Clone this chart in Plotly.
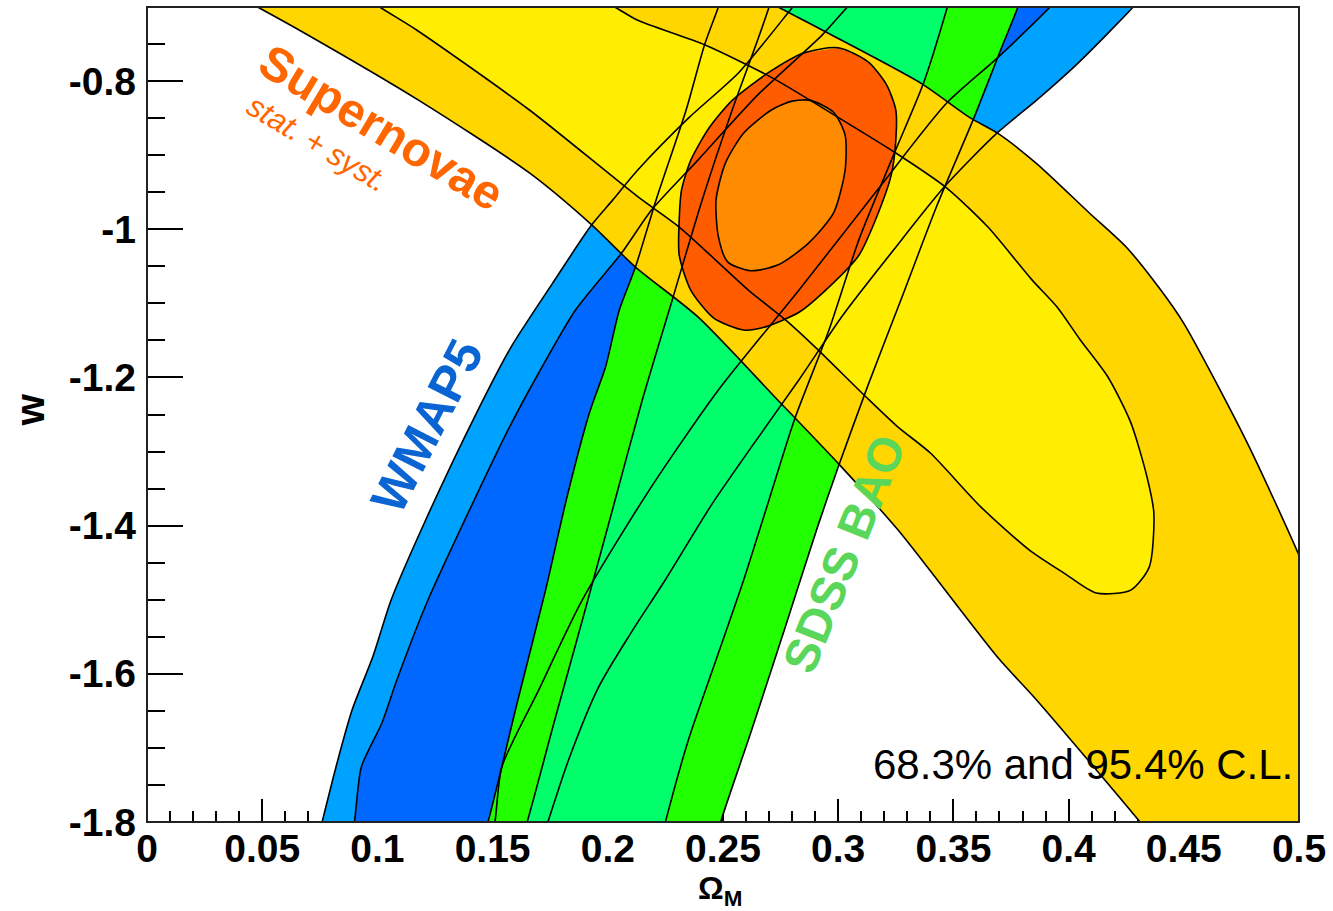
import plotly.graph_objects as go

# ---------------------------------------------------------------
# Confidence contours in the (Omega_M, w) plane.
# Each contour is a list of (Omega_M, w) vertices; band-like
# constraints are stored as a left and a right edge (bottom->top,
# top->bottom) that together close the region.
# ---------------------------------------------------------------

# Supernovae stat.+syst., 95.4% : lower-left edge, then upper-right edge back
sn95_lo_om = [0.029, 0.048, 0.066, 0.118, 0.166, 0.193, 0.212, 0.239, 0.273, 0.300,
              0.326, 0.369, 0.386, 0.431, 0.451, 0.560]
sn95_lo_w = [-0.668, -0.700, -0.731, -0.826, -0.924, -0.994, -1.051, -1.118, -1.228, -1.316,
             -1.406, -1.577, -1.635, -1.800, -1.878, -1.900]
sn95_up_om = [0.512, 0.500, 0.477, 0.450, 0.440, 0.425, 0.409, 0.386, 0.369, 0.357,
              0.336, 0.293, 0.274, 0.257]
sn95_up_w = [-1.534, -1.440, -1.285, -1.127, -1.082, -1.024, -0.978, -0.911, -0.870, -0.849,
             -0.803, -0.731, -0.700, -0.670]

# Supernovae stat.+syst., 68.3%
sn68_om = [0.084, 0.101, 0.117, 0.166, 0.213, 0.231, 0.261, 0.277, 0.290, 0.312, 0.326,
           0.340, 0.362, 0.383, 0.398, 0.412, 0.427, 0.435, 0.437, 0.434, 0.427, 0.417,
           0.405, 0.395, 0.384, 0.365, 0.347, 0.325, 0.300, 0.271, 0.242, 0.213, 0.203, 0.185]
sn68_w = [-0.664, -0.700, -0.731, -0.839, -0.956, -0.997, -1.082, -1.122, -1.159, -1.226, -1.267,
          -1.302, -1.375, -1.433, -1.464, -1.491, -1.487, -1.456, -1.383, -1.334, -1.261, -1.199,
          -1.149, -1.105, -1.068, -0.997, -0.944, -0.897, -0.849, -0.795, -0.751, -0.718, -0.700, -0.670]

# WMAP5, 95.4%
wmap95_left_om = [0.073, 0.076, 0.082, 0.089, 0.098, 0.106, 0.121, 0.143, 0.158, 0.176,
                  0.193, 0.202, 0.213, 0.235, 0.257, 0.280, 0.287]
wmap95_left_w = [-1.838, -1.800, -1.726, -1.649, -1.577, -1.500, -1.392, -1.248, -1.159, -1.073,
                 -0.994, -0.961, -0.920, -0.850, -0.788, -0.701, -0.674]
wmap95_right_om = [0.434, 0.428, 0.404, 0.386, 0.369, 0.346, 0.324, 0.302, 0.283, 0.263,
                   0.245, 0.225, 0.210, 0.196, 0.183, 0.174, 0.170]
wmap95_right_w = [-0.677, -0.700, -0.776, -0.826, -0.870, -0.943, -1.028, -1.116, -1.203, -1.291,
                  -1.372, -1.473, -1.545, -1.618, -1.716, -1.800, -1.838]

# WMAP5, 68.3%
wmap68_left_om = [0.087, 0.090, 0.093, 0.102, 0.108, 0.115, 0.122, 0.138, 0.156, 0.170,
                  0.186, 0.206, 0.219, 0.239, 0.265, 0.293, 0.304, 0.312]
wmap68_left_w = [-1.838, -1.800, -1.726, -1.666, -1.612, -1.554, -1.500, -1.392, -1.275, -1.194,
                 -1.109, -1.032, -0.974, -0.907, -0.819, -0.738, -0.700, -0.674]
wmap68_right_om = [0.399, 0.392, 0.369, 0.347, 0.317, 0.283, 0.248, 0.218, 0.189, 0.170,
                   0.154, 0.151, 0.148]
wmap68_right_w = [-0.677, -0.700, -0.769, -0.830, -0.947, -1.082, -1.217, -1.352, -1.500, -1.622,
                  -1.726, -1.800, -1.838]

# SDSS BAO, 95.4%
bao95_left_om = [0.144, 0.148, 0.161, 0.173, 0.182, 0.192, 0.199, 0.205, 0.212, 0.221,
                 0.234, 0.242, 0.248, 0.251]
bao95_left_w = [-1.838, -1.800, -1.635, -1.487, -1.365, -1.248, -1.186, -1.109, -1.051, -0.960,
                -0.839, -0.751, -0.700, -0.670]
bao95_right_om = [0.381, 0.378, 0.370, 0.359, 0.343, 0.328, 0.313, 0.300, 0.291, 0.277,
                  0.262, 0.249, 0.246]
bao95_right_w = [-0.670, -0.700, -0.762, -0.849, -0.967, -1.089, -1.210, -1.321, -1.402, -1.537,
                 -1.680, -1.800, -1.838]

# SDSS BAO, 68.3%
bao68_left_om = [0.161, 0.165, 0.177, 0.189, 0.202, 0.215, 0.228, 0.241, 0.254, 0.265,
                 0.270, 0.273]
bao68_left_w = [-1.838, -1.800, -1.662, -1.527, -1.379, -1.230, -1.095, -0.960, -0.839, -0.745,
                -0.700, -0.670]
bao68_right_om = [0.350, 0.347, 0.337, 0.324, 0.309, 0.296, 0.281, 0.270, 0.259, 0.247,
                  0.235, 0.225, 0.222]
bao68_right_w = [-0.670, -0.704, -0.803, -0.900, -1.014, -1.136, -1.257, -1.365, -1.473, -1.581,
                 -1.689, -1.800, -1.838]

# Combined SN + BAO + CMB
comb95_om = [0.300, 0.313, 0.321, 0.325, 0.325, 0.323, 0.317, 0.309, 0.297, 0.283, 0.267,
             0.259, 0.246, 0.236, 0.231, 0.231, 0.232, 0.236, 0.244, 0.254, 0.270, 0.285]
comb95_w = [-0.755, -0.774, -0.805, -0.839, -0.880, -0.927, -0.981, -1.035, -1.075, -1.112, -1.133,
            -1.136, -1.120, -1.082, -1.035, -0.987, -0.947, -0.907, -0.863, -0.826, -0.788, -0.762]
comb68_om = [0.288, 0.298, 0.303, 0.303, 0.298, 0.287, 0.274, 0.262, 0.252, 0.248, 0.247,
             0.251, 0.259, 0.271, 0.280]
comb68_w = [-0.826, -0.842, -0.873, -0.920, -0.978, -1.019, -1.048, -1.056, -1.044, -1.010, -0.960,
            -0.911, -0.870, -0.839, -0.827]

# Axis ticks
x_ticks = [0, 0.05, 0.1, 0.15, 0.2, 0.25, 0.3, 0.35, 0.4, 0.45, 0.5]
x_labels = ["0", "0.05", "0.1", "0.15", "0.2", "0.25", "0.3", "0.35", "0.4", "0.45", "0.5"]
y_ticks = [-1.8, -1.6, -1.4, -1.2, -1.0, -0.8]
y_labels = ["-1.8", "-1.6", "-1.4", "-1.2", "-1", "-0.8"]

# Fill colours
C_WMAP95, C_WMAP68 = "#00A2FF", "#0068FF"
C_BAO95, C_BAO68 = "#22FF00", "#00FF6A"
C_SN95, C_SN68 = "#FFD600", "#FFEE00"
C_COMB95, C_COMB68 = "#FF5C00", "#FF8C00"

FONT = "Liberation Sans"
SMOOTH = 0.7

fig = go.Figure()


def add_fill(xs, ys, color):
    fig.add_trace(go.Scatter(x=xs, y=ys, mode="lines", fill="toself", fillcolor=color,
                             line=dict(width=0, color=color, shape="spline",
                                       smoothing=SMOOTH),
                             hoverinfo="skip", showlegend=False))


def add_outline(xs, ys, closed=False):
    if closed:
        xs = xs + xs[:1]
        ys = ys + ys[:1]
    fig.add_trace(go.Scatter(x=xs, y=ys, mode="lines",
                             line=dict(width=1.6, color="black", shape="spline",
                                       smoothing=SMOOTH),
                             hoverinfo="skip", showlegend=False))


sn95_om = sn95_lo_om + sn95_up_om
sn95_w = sn95_lo_w + sn95_up_w

# filled regions, back to front
add_fill(wmap95_left_om + wmap95_right_om, wmap95_left_w + wmap95_right_w, C_WMAP95)
add_fill(wmap68_left_om + wmap68_right_om, wmap68_left_w + wmap68_right_w, C_WMAP68)
add_fill(bao95_left_om + bao95_right_om, bao95_left_w + bao95_right_w, C_BAO95)
add_fill(bao68_left_om + bao68_right_om, bao68_left_w + bao68_right_w, C_BAO68)
add_fill(sn95_om, sn95_w, C_SN95)
add_fill(sn68_om, sn68_w, C_SN68)
add_fill(comb95_om, comb95_w, C_COMB95)
add_fill(comb68_om, comb68_w, C_COMB68)

# contour lines on top of all fills
for xs, ys in [(wmap95_left_om, wmap95_left_w), (wmap95_right_om, wmap95_right_w),
               (wmap68_left_om, wmap68_left_w), (wmap68_right_om, wmap68_right_w),
               (bao95_left_om, bao95_left_w), (bao95_right_om, bao95_right_w),
               (bao68_left_om, bao68_left_w), (bao68_right_om, bao68_right_w)]:
    add_outline(xs, ys)
add_outline(sn95_om, sn95_w, closed=True)
add_outline(sn68_om, sn68_w, closed=True)
add_outline(comb95_om, comb95_w, closed=True)
add_outline(comb68_om, comb68_w, closed=True)

axis_common = dict(ticks="inside", tickwidth=2, tickcolor="black", showgrid=False,
                   zeroline=False, showline=False, layer="below traces",
                   tickfont=dict(family=FONT, size=39, color="black", weight="bold"))

fig.update_xaxes(range=[0, 0.5], tickmode="array", tickvals=x_ticks, ticktext=x_labels,
                 ticklen=23, ticklabelstandoff=0,
                 minor=dict(tick0=0, dtick=0.01, ticks="inside", ticklen=11, tickwidth=2,
                            tickcolor="black"),
                 **axis_common)
fig.update_yaxes(range=[-1.8, -0.7], tickmode="array", tickvals=y_ticks, ticktext=y_labels,
                 ticklen=36, ticklabelstandoff=10,
                 minor=dict(tick0=-1.8, dtick=0.05, ticks="inside", ticklen=18, tickwidth=2,
                            tickcolor="black"),
                 **axis_common)

annotations = [
    dict(text="Supernovae", x=0.1017, y=-0.8633, textangle=31,
         font=dict(family=FONT, size=48, color="#FF6600", weight="bold")),
    dict(text="<i>stat. + syst.</i>", x=0.074, y=-0.8836, textangle=31,
         font=dict(family=FONT, size=31, color="#FF6600")),
    dict(text="WMAP5", x=0.1216, y=-1.2655, textangle=-63,
         font=dict(family=FONT, size=50, color="#0A64D2", weight="bold")),
    dict(text="SDSS BAO", x=0.3025, y=-1.437, textangle=-68,
         font=dict(family=FONT, size=48, color="#5AD75A", weight="bold")),
    dict(text="68.3% and 95.4% C.L.", x=0.4982, y=-1.723, xanchor="right",
         font=dict(family=FONT, size=42, color="black")),
    dict(text="w", xref="paper", yref="paper", x=-0.1013, y=0.5055, textangle=-90,
         font=dict(family=FONT, size=40, color="black", weight="bold")),
    dict(text="Ω<sub>M</sub>", xref="paper", yref="paper", x=0.497, y=-0.0845,
         font=dict(family=FONT, size=32, color="black", weight="bold")),
]
for a in annotations:
    a.setdefault("xref", "x")
    a.setdefault("yref", "y")
    a.setdefault("xanchor", "center")
    a["yanchor"] = "middle"
    a["showarrow"] = False

fig.update_layout(
    width=1333, height=911,
    margin=dict(l=147, r=31, t=7, b=89),
    paper_bgcolor="white", plot_bgcolor="white",
    showlegend=False,
    annotations=annotations,
    shapes=[dict(type="rect", xref="paper", yref="paper", x0=0, y0=0, x1=1, y1=1,
                 line=dict(color="#222222", width=2), layer="above")],
)

fig.write_html("out.html")
